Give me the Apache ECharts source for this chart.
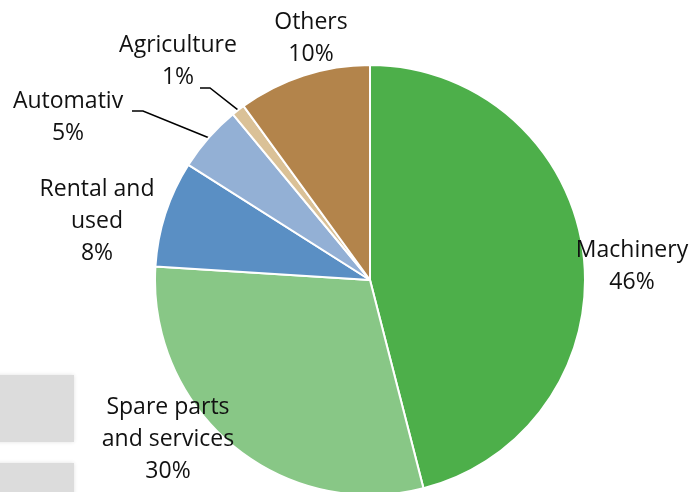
<!DOCTYPE html>
<html>
<head>
<meta charset="utf-8">
<script src="https://cdn.jsdelivr.net/npm/echarts@6/dist/echarts.min.js"></script>
<style>
  html, body { margin: 0; padding: 0; background: #ffffff; }
  #chart { width: 693px; height: 492px; }
</style>
</head>
<body>
<div id="chart"></div>
<script>
// Revenue split by segment (percent)
const categories = ['Machinery', 'Spare parts\nand services', 'Rental and\nused', 'Automativ', 'Agriculture', 'Others'];
const shares = [46, 30, 8, 5, 1, 10];
const sliceColors = ['#4daf4a', '#88c786', '#5a8fc4', '#93b0d5', '#dac197', '#b3844b'];

// Label anchor points (label centre) and leader line bends
const labelSpots = [
  [632, 266], [168, 439], [97, 221], [68, 117], [178, 61], [311, 38]
];
const leaderBends = {
  3: [[132, 111], [143, 111]],
  4: [[200, 88], [210, 88]]
};

const chart = echarts.init(document.getElementById('chart'));

chart.setOption({
  backgroundColor: '#ffffff',
  animation: false,
  graphic: [
    { type: 'rect', shape: { x: -4, y: 375, width: 78, height: 67 },
      style: { fill: '#dcdcdc', shadowBlur: 4, shadowColor: 'rgba(0,0,0,0.12)' } },
    { type: 'rect', shape: { x: -4, y: 463, width: 78, height: 40 },
      style: { fill: '#dcdcdc', shadowBlur: 4, shadowColor: 'rgba(0,0,0,0.12)' } }
  ],
  series: [{
    type: 'pie',
    center: [370, 280],
    radius: [0, 215],
    startAngle: 90,
    clockwise: true,
    avoidLabelOverlap: false,
    itemStyle: { borderColor: '#ffffff', borderWidth: 2 },
    label: {
      show: true,
      position: 'outside',
      formatter: p => p.name + '\n' + p.value + '%',
      fontFamily: 'Open Sans',
      fontSize: 23,
      lineHeight: 32,
      color: '#111111',
      align: 'center'
    },
    labelLine: { show: true, lineStyle: { color: '#000000', width: 1.5 } },
    labelLayout: function (params) {
      const i = params.dataIndex;
      const spot = labelSpots[i];
      const out = { x: spot[0], y: spot[1], align: 'center', verticalAlign: 'middle' };
      if (leaderBends[i]) {
        const end = params.labelLinePoints[0];
        out.labelLinePoints = [leaderBends[i][0], leaderBends[i][1], end];
      }
      return out;
    },
    data: categories.map((name, i) => ({
      name: name,
      value: shares[i],
      itemStyle: { color: sliceColors[i] },
      labelLine: { show: !!leaderBends[i] }
    }))
  }]
});
</script>
</body>
</html>
